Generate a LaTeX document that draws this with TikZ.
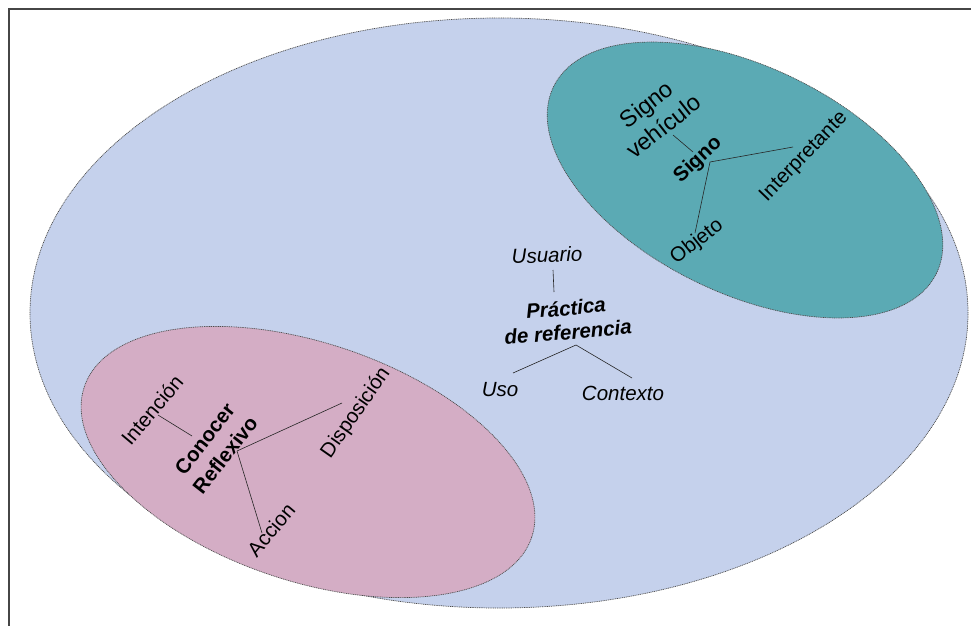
\documentclass[tikz,border=0pt]{standalone}
\usepackage{fontspec}
\setmainfont{Liberation Sans}
\definecolor{outerfill}{RGB}{197,209,236}
\definecolor{signfill}{RGB}{91,170,180}
\definecolor{reflfill}{RGB}{212,173,197}
\definecolor{framegray}{RGB}{70,70,70}
\begin{document}
\begin{tikzpicture}[x=1pt,y=1pt,
  region/.style={draw=black!70, line width=0.7pt, dash pattern=on 1pt off 0.8pt},
  link/.style={draw=black!85, line width=0.6pt},
  lbl/.style={inner sep=0pt, font=\fontsize{20.5}{24}\selectfont},
  lblit/.style={lbl, font=\fontsize{20.5}{24}\selectfont\itshape},
  lblbf/.style={lbl, font=\fontsize{20.5}{26}\selectfont\bfseries},
  lblbfit/.style={lbl, font=\fontsize{20.5}{24}\selectfont\bfseries\itshape},
  lblbig/.style={lbl, font=\fontsize{23.5}{28}\selectfont}]

% canvas and frame
\useasboundingbox (0,0) rectangle (971,-626);
\fill[white] (0,0) rectangle (971,-626);
\draw[framegray, line width=2pt] (971,-9) -- (9,-9) -- (9,-626);

% regions
\path[region, fill=outerfill] (499,-313) ellipse [x radius=469, y radius=295];
\path[region, fill=signfill, rotate around={-26:(745,-180)}]
  (745,-180) ellipse [x radius=213, y radius=113];
\path[region, fill=reflfill, rotate around={-18.6:(308,-462)}]
  (308,-462) ellipse [x radius=236, y radius=119];

% sign triad
\node[lblbig, rotate=38, align=center] (vehiculo) at (655,-115) {Signo\\vehículo};
\node[lblbf, rotate=43] (signo) at (698,-160) {Signo};
\node[lbl, rotate=46] (interp) at (804,-157) {Interpretante};
\node[lbl, rotate=38] (objeto) at (697,-242) {Objeto};
\coordinate (vehiculo-foot) at (673,-135);
\coordinate (signo-top) at (693,-152);
\coordinate (signo-hub) at (710,-162);
\coordinate (interp-end) at (793,-147);
\coordinate (objeto-end) at (695,-233);
\draw[link] (vehiculo-foot) -- (signo-top);
\draw[link] (signo-hub) -- (interp-end);
\draw[link] (signo-hub) -- (objeto-end);

% reference practice
\node[lblit, rotate=2] (usuario) at (547,-255) {Usuario};
\node[lblbfit, rotate=5, align=center] (practica) at (567,-320) {Práctica\\de referencia};
\node[lblit] (uso) at (500,-390) {Uso};
\node[lblit] (contexto) at (623,-393) {Contexto};
\coordinate (usuario-end) at (553,-270);
\coordinate (practica-top) at (554,-292);
\coordinate (practica-hub) at (576,-345);
\coordinate (uso-end) at (513,-373);
\coordinate (contexto-end) at (632,-378);
\draw[link] (usuario-end) -- (practica-top);
\draw[link] (practica-hub) -- (uso-end);
\draw[link] (practica-hub) -- (contexto-end);

% reflexive knowing
\node[lbl, rotate=50] (intencion) at (152,-410) {Intención};
\node[lblbf, rotate=52, align=center] (conocer) at (215,-447) {Conocer\\Reflexivo};
\node[lbl, rotate=55] (disposicion) at (356,-413) {Disposición};
\node[lbl, rotate=50] (accion) at (271,-530) {Accion};
\coordinate (intencion-end) at (158,-415);
\coordinate (conocer-top) at (192,-436);
\coordinate (conocer-hub) at (237,-451);
\coordinate (disposicion-end) at (342,-403);
\coordinate (accion-end) at (262,-533);
\draw[link] (intencion-end) -- (conocer-top);
\draw[link] (conocer-hub) -- (disposicion-end);
\draw[link] (conocer-hub) -- (accion-end);
\end{tikzpicture}
\end{document}
